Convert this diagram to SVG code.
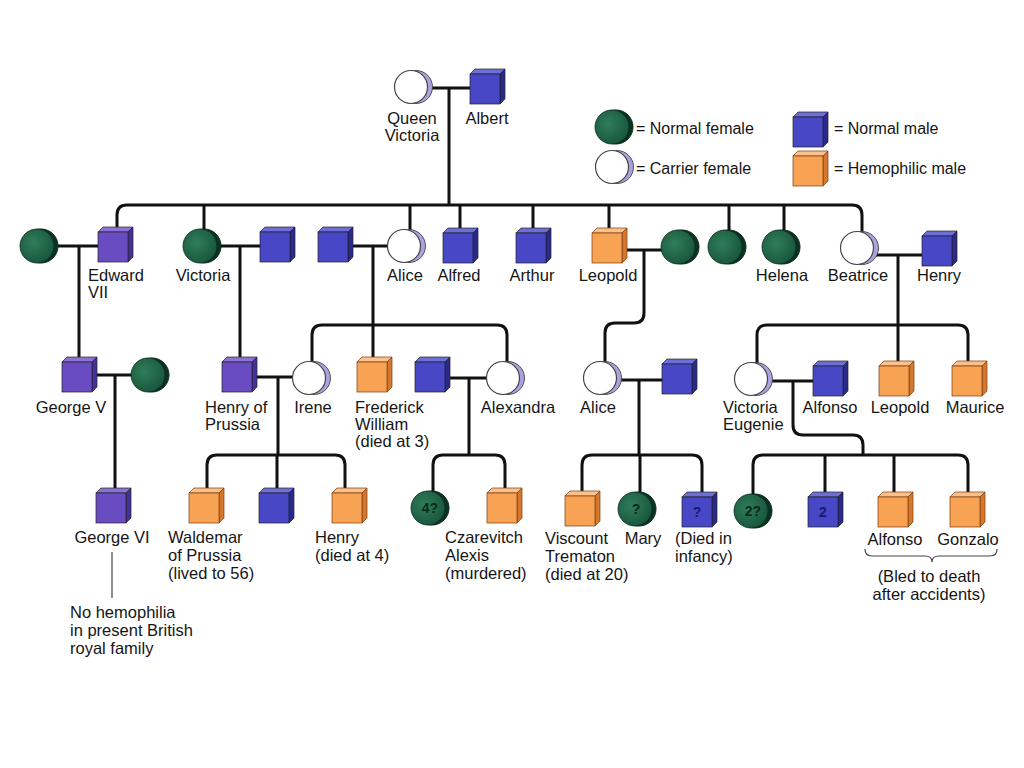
<svg xmlns="http://www.w3.org/2000/svg" xmlns:xlink="http://www.w3.org/1999/xlink" width="1024" height="768" viewBox="0 0 1024 768">
<style>
.t{font-family:"Liberation Sans",Arial,sans-serif;font-size:16.5px;fill:#151515}
.lg{font-family:"Liberation Sans",Arial,sans-serif;font-size:16px;fill:#151515}
.m{text-anchor:middle}
.in{font-family:"Liberation Sans",Arial,sans-serif;font-size:14px;font-weight:bold;text-anchor:middle}
.ing{fill:#0a2a1a}
.inb{fill:#1a1a6a}
.c{fill:none;stroke:#111;stroke-width:3;stroke-linejoin:round}
.thin{fill:none;stroke:#444;stroke-width:1.2}
</style>
<defs>
<radialGradient id="gG" cx="0.4" cy="0.4" r="0.7">
<stop offset="0" stop-color="#2f7d5a"/>
<stop offset="1" stop-color="#165238"/>
</radialGradient>
<g id="fN">
<circle cx="4" cy="0" r="17" fill="#0a3322" stroke="#0a2a1a" stroke-width="1"/>
<circle cx="0" cy="0" r="17" fill="url(#gG)" stroke="#0a2a1a" stroke-width="0.8"/>
</g>
<g id="fC">
<circle cx="5" cy="0" r="16.5" fill="#aaa2de" stroke="#444" stroke-width="0.9"/>
<circle cx="0" cy="0" r="16.5" fill="#ffffff" stroke="#444" stroke-width="1.2"/>
</g>
<g id="sqB">
<polygon points="0,0 5,-5 35,-5 30,0" fill="#6e6ed8" stroke="#222" stroke-width="0.7"/>
<polygon points="30,0 35,-5 35,25 30,30" fill="#2a2a8c" stroke="#222" stroke-width="0.7"/>
<rect x="0" y="0" width="30" height="30" fill="#4848c6" stroke="#222" stroke-width="0.7"/>
</g>
<g id="sqP">
<polygon points="0,0 5,-5 35,-5 30,0" fill="#8d72d6" stroke="#222" stroke-width="0.7"/>
<polygon points="30,0 35,-5 35,25 30,30" fill="#45309a" stroke="#222" stroke-width="0.7"/>
<rect x="0" y="0" width="30" height="30" fill="#6a4cc2" stroke="#222" stroke-width="0.7"/>
</g>
<g id="sqH">
<polygon points="0,0 5,-5 35,-5 30,0" fill="#fcc08a" stroke="#7a3c10" stroke-width="0.7"/>
<polygon points="30,0 35,-5 35,25 30,30" fill="#d6772e" stroke="#7a3c10" stroke-width="0.7"/>
<rect x="0" y="0" width="30" height="30" fill="#f8a254" stroke="#7a3c10" stroke-width="0.7"/>
</g>
</defs>
<rect width="1024" height="768" fill="#ffffff"/>

<g id="connectors">
<path class="c" d="M428 88 H470 M449 88 V205"/>
<path class="c" d="M117 232 V215 Q117 205 127 205 H852 Q862 205 862 215 V232"/>
<path class="c" d="M204 205 V232 M410 205 V232 M460 205 V232 M533 205 V232 M609 205 V232 M729 205 V232 M784 205 V232"/>
<path class="c" d="M54 246 H98 M79 246 V362"/>
<path class="c" d="M217 246 H260 M240 246 V362"/>
<path class="c" d="M348 246 H388 M373 246 V362"/>
<path class="c" d="M312 362 V335 Q312 325 322 325 H497 Q507 325 507 335 V362"/>
<path class="c" d="M621 250 H662 M644 250 V313 Q644 323 634 323 H615 Q605 323 605 333 V370"/>
<path class="c" d="M873 255 H922 M898 255 V366"/>
<path class="c" d="M757 364 V335 Q757 325 767 325 H958 Q968 325 968 335 V366"/>
<path class="c" d="M92 375 H132 M115 375 V493"/>
<path class="c" d="M252 377 H293 M278 377 V455"/>
<path class="c" d="M207 493 V465 Q207 455 217 455 H335 Q345 455 345 465 V493 M277 455 V493"/>
<path class="c" d="M445 378 H487 M469 378 V455"/>
<path class="c" d="M433 500 V465 Q433 455 443 455 H495 Q505 455 505 465 V493"/>
<path class="c" d="M617 380 H662 M639 380 V455"/>
<path class="c" d="M582 496 V465 Q582 455 592 455 H692 Q702 455 702 465 V497 M640 455 V500"/>
<path class="c" d="M768 381 H813 M793 381 V425 Q793 435 803 435 H853 Q863 435 863 445 V455"/>
<path class="c" d="M753 500 V465 Q753 455 763 455 H958 Q968 455 968 465 V497 M825 455 V497 M894 455 V497"/>
<path class="thin" d="M112 552 V598"/>
<path class="thin" d="M865 549 Q865 556 872 556 H925 Q932 556 932 562 Q932 556 939 556 H990 Q997 556 997 549"/>
</g>

<g id="legend">
<use xlink:href="#fN" x="612" y="127"/>
<text class="lg" x="636" y="134">= Normal female</text>
<use xlink:href="#fC" x="612" y="167"/>
<text class="lg" x="636" y="174">= Carrier female</text>
<use xlink:href="#sqB" x="793" y="117"/>
<text class="lg" x="834" y="134">= Normal male</text>
<use xlink:href="#sqH" x="793" y="156"/>
<text class="lg" x="834" y="174">= Hemophilic male</text>
</g>

<g id="queen-victoria"><use xlink:href="#fC" x="411" y="87"/><text class="t m" x="412" y="124">Queen</text><text class="t m" x="412" y="141">Victoria</text></g>
<g id="albert"><use xlink:href="#sqB" x="470" y="74"/><text class="t m" x="487" y="124">Albert</text></g>

<g id="edward-wife"><use xlink:href="#fN" x="37" y="246"/></g>
<g id="edward-vii"><use xlink:href="#sqP" x="98" y="232"/><text class="t" x="88" y="281">Edward</text><text class="t" x="88" y="298">VII</text></g>
<g id="victoria"><use xlink:href="#fN" x="200" y="246"/><text class="t m" x="203" y="281">Victoria</text></g>
<g id="victoria-husband"><use xlink:href="#sqB" x="260" y="232"/></g>
<g id="alice-husband"><use xlink:href="#sqB" x="318" y="232"/></g>
<g id="alice"><use xlink:href="#fC" x="404" y="246"/><text class="t m" x="405" y="281">Alice</text></g>
<g id="alfred"><use xlink:href="#sqB" x="443" y="233"/><text class="t m" x="459" y="281">Alfred</text></g>
<g id="arthur"><use xlink:href="#sqB" x="516" y="233"/><text class="t m" x="532" y="281">Arthur</text></g>
<g id="leopold"><use xlink:href="#sqH" x="592" y="233"/><text class="t m" x="608" y="281">Leopold</text></g>
<g id="leopold-wife"><use xlink:href="#fN" x="678" y="247"/></g>
<g id="daughter"><use xlink:href="#fN" x="725" y="247"/></g>
<g id="helena"><use xlink:href="#fN" x="779" y="247"/><text class="t m" x="782" y="281">Helena</text></g>
<g id="beatrice"><use xlink:href="#fC" x="857" y="248"/><text class="t m" x="858" y="281">Beatrice</text></g>
<g id="henry"><use xlink:href="#sqB" x="922" y="236"/><text class="t m" x="939" y="281">Henry</text></g>

<g id="george-v"><use xlink:href="#sqP" x="62" y="362"/><text class="t m" x="71" y="413">George V</text></g>
<g id="george-v-wife"><use xlink:href="#fN" x="148" y="375"/></g>
<g id="henry-of-prussia"><use xlink:href="#sqP" x="222" y="362"/><text class="t" x="205" y="413">Henry of</text><text class="t" x="205" y="430">Prussia</text></g>
<g id="irene"><use xlink:href="#fC" x="309" y="378"/><text class="t m" x="313" y="413">Irene</text></g>
<g id="frederick-william"><use xlink:href="#sqH" x="357" y="362"/><text class="t" x="355" y="413">Frederick</text><text class="t" x="355" y="430">William</text><text class="t" x="355" y="447">(died at 3)</text></g>
<g id="alexandra-husband"><use xlink:href="#sqB" x="415" y="362"/></g>
<g id="alexandra"><use xlink:href="#fC" x="503" y="378"/><text class="t m" x="518" y="413">Alexandra</text></g>
<g id="alice-2"><use xlink:href="#fC" x="600" y="378"/><text class="t m" x="598" y="413">Alice</text></g>
<g id="alice-2-husband"><use xlink:href="#sqB" x="662" y="364"/></g>
<g id="victoria-eugenie"><use xlink:href="#fC" x="751" y="379"/><text class="t" x="723" y="413">Victoria</text><text class="t" x="723" y="430">Eugenie</text></g>
<g id="alfonso-husband"><use xlink:href="#sqB" x="813" y="366"/><text class="t m" x="830" y="413">Alfonso</text></g>
<g id="leopold-2"><use xlink:href="#sqH" x="879" y="366"/><text class="t m" x="900" y="413">Leopold</text></g>
<g id="maurice"><use xlink:href="#sqH" x="952" y="366"/><text class="t m" x="975" y="413">Maurice</text></g>

<g id="george-vi"><use xlink:href="#sqP" x="96" y="493"/><text class="t m" x="112" y="543">George VI</text>
<text class="t" x="70" y="618">No hemophilia</text><text class="t" x="70" y="636">in present British</text><text class="t" x="70" y="654">royal family</text></g>
<g id="waldemar"><use xlink:href="#sqH" x="189" y="493"/><text class="t" x="168" y="543">Waldemar</text><text class="t" x="168" y="561">of Prussia</text><text class="t" x="168" y="579">(lived to 56)</text></g>
<g id="irene-son"><use xlink:href="#sqB" x="259" y="493"/></g>
<g id="henry-2"><use xlink:href="#sqH" x="332" y="493"/><text class="t" x="315" y="543">Henry</text><text class="t" x="315" y="561">(died at 4)</text></g>
<g id="daughters-4"><use xlink:href="#fN" x="428" y="508"/><text class="in ing" x="430" y="513">4?</text></g>
<g id="alexis"><use xlink:href="#sqH" x="487" y="493"/><text class="t" x="445" y="543">Czarevitch</text><text class="t" x="445" y="561">Alexis</text><text class="t" x="445" y="579">(murdered)</text></g>
<g id="viscount-trematon"><use xlink:href="#sqH" x="565" y="496"/><text class="t" x="545" y="544">Viscount</text><text class="t" x="545" y="562">Trematon</text><text class="t" x="545" y="580">(died at 20)</text></g>
<g id="mary"><use xlink:href="#fN" x="635" y="509"/><text class="in ing" x="636" y="514">?</text><text class="t m" x="643" y="544">Mary</text></g>
<g id="infant-son"><use xlink:href="#sqB" x="682" y="497"/><text class="in inb" x="697" y="517">?</text><text class="t" x="675" y="544">(Died in</text><text class="t" x="675" y="562">infancy)</text></g>
<g id="daughters-2"><use xlink:href="#fN" x="751" y="511"/><text class="in ing" x="753" y="516">2?</text></g>
<g id="sons-2"><use xlink:href="#sqB" x="808" y="497"/><text class="in inb" x="823" y="517">2</text></g>
<g id="alfonso"><use xlink:href="#sqH" x="878" y="497"/><text class="t m" x="895" y="545">Alfonso</text></g>
<g id="gonzalo"><use xlink:href="#sqH" x="950" y="497"/><text class="t m" x="968" y="545">Gonzalo</text>
<text class="t m" x="929" y="582">(Bled to death</text><text class="t m" x="929" y="600">after accidents)</text></g>
</svg>
